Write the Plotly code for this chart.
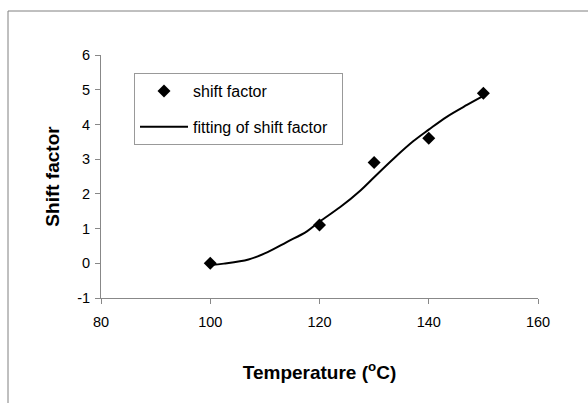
import plotly.graph_objects as go

# measured shift factor data
temp_data = [100, 120, 130, 140, 150]
shift_data = [0.0, 1.1, 2.9, 3.6, 4.9]

# fitted curve
temp_fit = [100, 102.5, 107, 110.5, 114, 117.7, 120, 123.8, 127.5, 130, 133.6, 137.2, 140, 143.3, 147, 150]
shift_fit = [-0.05, -0.01, 0.11, 0.32, 0.61, 0.92, 1.2, 1.62, 2.1, 2.48, 3.02, 3.52, 3.85, 4.22, 4.56, 4.82]

x_ticks = [80, 100, 120, 140, 160]
y_ticks = [-1, 0, 1, 2, 3, 4, 5, 6]
y_tick_text = ["-1", "0", "1", "2", "3", "4", "5", "6"]

PL, PR, PT, PB = 101, 50, 55, 105
W, H = 588, 403
pw, ph = W - PL - PR, H - PT - PB

def px(x):
    return (x - PL) / pw

def py(y):
    return (H - PB - y) / ph

FONT = "Liberation Sans, Arial"

fig = go.Figure()
fig.add_trace(go.Scatter(
    x=temp_data, y=shift_data, mode="markers", name="shift factor",
    marker=dict(symbol="diamond", size=10, color="black"),
    legendgroup="a",
))
fig.add_trace(go.Scatter(
    x=temp_fit, y=shift_fit, mode="lines", name="fitting of shift factor&nbsp;&nbsp;",
    line=dict(color="black", width=2, shape="spline"),
    legendgroup="b",
))

axis_common = dict(
    showgrid=False, zeroline=False, showline=True, linecolor="#888888", linewidth=1,
    ticks="outside", ticklen=5, tickcolor="#888888", tickwidth=1,
    tickfont=dict(family=FONT, size=14.5, color="black"),
)

fig.update_xaxes(
    range=[80, 160], tickvals=x_ticks, ticklabelstandoff=6, **axis_common,
    title=dict(text="Temperature (<sup>o</sup>C)", standoff=36,
               font=dict(family=FONT, size=19, color="black", weight="bold")),
)
fig.update_yaxes(
    range=[-1, 6], tickvals=y_ticks, ticktext=y_tick_text, ticklabelstandoff=2, **axis_common,
    title=dict(text="Shift factor", standoff=12,
               font=dict(family=FONT, size=19, color="black", weight="bold")),
)

fig.add_shape(type="line", xref="paper", yref="paper",
              x0=px(8), y0=py(403), x1=px(8), y1=py(11),
              line=dict(color="#808080", width=1))
fig.add_shape(type="line", xref="paper", yref="paper",
              x0=px(8), y0=py(11), x1=px(588), y1=py(11),
              line=dict(color="#808080", width=1))

fig.update_layout(
    width=W, height=H, margin=dict(l=PL, r=PR, t=PT, b=PB),
    plot_bgcolor="white", paper_bgcolor="white",
    showlegend=True,
    legend=dict(
        x=px(134), y=py(73), xanchor="left", yanchor="top",
        bordercolor="#999999", borderwidth=1, bgcolor="white",
        font=dict(family=FONT, size=16, color="black"),
        itemwidth=48, tracegroupgap=12, traceorder="grouped",
    ),
)

fig.write_html("out.html")
